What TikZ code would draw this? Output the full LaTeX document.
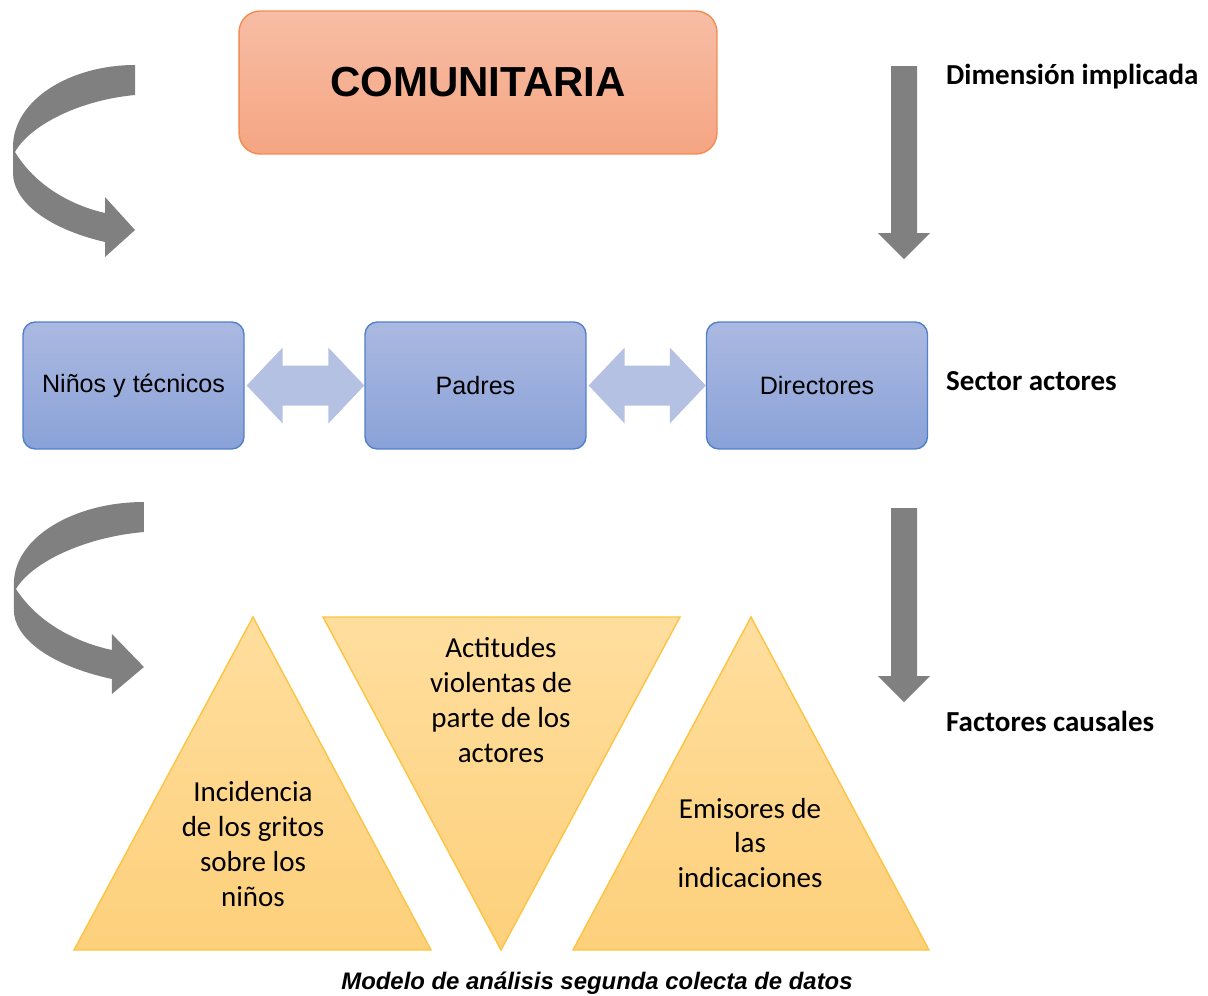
\documentclass[tikz,border=0pt]{standalone}
\usepackage{fontspec}
\setmainfont{Liberation Sans}
\newfontfamily\calib{Carlito}
\usetikzlibrary{calc}

\definecolor{orangetop}{HTML}{F7BDA5}
\definecolor{orangebot}{HTML}{F5A582}
\definecolor{orangeline}{HTML}{F28C52}
\definecolor{bluetop}{HTML}{ABB9E1}
\definecolor{bluebot}{HTML}{8AA2D8}
\definecolor{blueline}{HTML}{5080CA}
\definecolor{linkblue}{HTML}{B4C1E3}
\definecolor{arrowgray}{HTML}{808080}
\definecolor{tritop}{HTML}{FFDE9E}
\definecolor{tribot}{HTML}{FDD07B}
\definecolor{triline}{HTML}{FCC442}

\begin{document}
\begin{tikzpicture}[x=0.02cm,y=-0.02cm,
    sectorbox/.style={draw=blueline,thick,rounded corners=7pt,top color=bluetop,bottom color=bluebot,
      minimum width=4.42cm,minimum height=2.54cm,font=\fontsize{14.3pt}{17pt}\selectfont},
    sidelabel/.style={anchor=west,font=\calib\bfseries\fontsize{16.5pt}{20pt}\selectfont},
    tritext/.style={align=center,font=\calib\fontsize{16.5pt}{19.9pt}\selectfont},
    tri/.style={draw=triline,thick,top color=tritop,bottom color=tribot}]
    \useasboundingbox (0,0) rectangle (1208,995);

    % Dimension
    \node[draw=orangeline,thick,rounded corners=12pt,top color=orangetop,bottom color=orangebot,
      minimum width=9.56cm,minimum height=2.86cm,font=\bfseries\fontsize{23.9pt}{27pt}\selectfont]
      (comunitaria) at (478,82.5) {COMUNITARIA};

    % Actors
    \node[sectorbox] (ninos) at (133.5,385.5) {Niños y técnicos};
    \node[sectorbox] (padres) at (475.5,385.5) {Padres};
    \node[sectorbox] (directores) at (817,385.5) {Directores};

    % Links between actors
    \foreach \a/\b in {ninos/padres,padres/directores}{
      \fill[linkblue] ($(\a.east)+(2,0)$) -- ++(36,-38) -- ++(0,18)
      -- ($(\b.west)+(-36,-20)$) -- ++(0,-18) -- (\b.west)
      -- ++(-36,38) -- ++(0,-18)
      -- ($(\a.east)+(38,20)$) -- ++(0,18) -- cycle;
    }

    % Curved arrows
    \foreach \dy/\sx in {0/1,437/1.066}{
      \begin{scope}[shift={(0,\dy)},xscale=\sx]
        \fill[arrowgray] (135,65) -- (135,95)
        .. controls (80,100) and (30,125) .. (15,152)
        .. controls (35,185) and (70,205) .. (105,213)
        -- (105,197) -- (135,230) -- (105,257) -- (105,242)
        .. controls (45,228) and (13,200) .. (13,173)
        -- (13,147)
        .. controls (13,100) and (70,65) .. (135,65) -- cycle;
      \end{scope}
    }

    % Straight arrows
    \foreach \top/\tip in {66/259,508/702}{
      \fill[arrowgray] (891,\top) -- (917,\top) -- (917,\tip-26) -- (930,\tip-26)
      -- (904,\tip) -- (878,\tip-26) -- (891,\tip-26) -- cycle;
    }

    % Labels
    \node[sidelabel] (dimension) at (940,77) {Dimensión implicada};
    \node[sidelabel] (sector) at (940,381) {Sector actores};
    \node[sidelabel] (factores) at (940,721) {Factores causales};

    % Causal factors
    \draw[tri] (253,617) -- (431,950) -- (74,950) -- cycle;
    \draw[tri] (323,617) -- (680,617) -- (501,950) -- cycle;
    \draw[tri] (751,617) -- (929,950) -- (573,950) -- cycle;
    \node[tritext] (gritos) at (253,844) {Incidencia\\de los gritos\\sobre los\\niños};
    \node[tritext] (actitudes) at (501,700) {Actitudes\\violentas de\\parte de los\\actores};
    \node[tritext] (emisores) at (750,843) {Emisores de\\las\\indicaciones};

    % Caption
    \node[font=\bfseries\itshape\fontsize{13.6pt}{16pt}\selectfont] (caption) at (597,983)
      {Modelo de análisis segunda colecta de datos};
\end{tikzpicture}
\end{document}
